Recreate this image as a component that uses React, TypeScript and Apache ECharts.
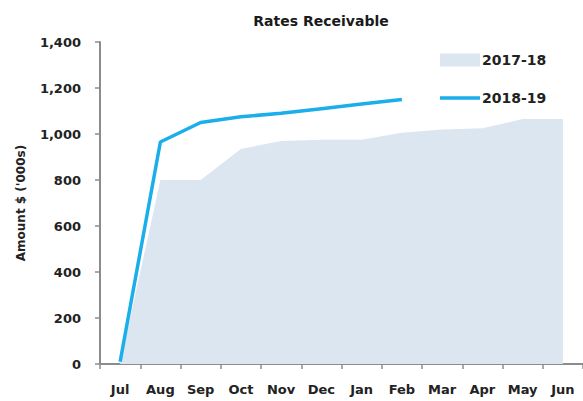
import React, { useEffect, useRef } from "react";
import * as echarts from "echarts";

const months = ["Jul", "Aug", "Sep", "Oct", "Nov", "Dec", "Jan", "Feb", "Mar", "Apr", "May", "Jun"];
const values1718 = [0, 800, 800, 935, 970, 975, 975, 1005, 1020, 1025, 1065, 1065];
const values1819 = [10, 965, 1050, 1075, 1090, 1110, 1130, 1150];
const yTicks = [0, 200, 400, 600, 800, 1000, 1200, 1400];

const FONT = "'DejaVu Sans', sans-serif";
const AREA = "#dce6f1";
const LINE = "#1aaeea";

export default function App() {
  const ref = useRef<HTMLDivElement>(null);
  useEffect(() => {
    if (!ref.current) return;
    const chart = echarts.init(ref.current, null, { renderer: "svg" });
    chart.setOption({
      animation: false,
      backgroundColor: "#ffffff",
      title: {
        text: "Rates Receivable",
        left: 316,
        top: 9,
        textAlign: "center",
        textStyle: { fontFamily: FONT, fontSize: 14, fontWeight: "bold", color: "#1a1a1a" },
      },
      legend: {
        orient: "vertical",
        left: 435,
        top: 48,
        itemWidth: 40,
        itemHeight: 13,
        itemGap: 24,
        textStyle: { fontFamily: FONT, fontSize: 14, fontWeight: "bold", color: "#222", padding: [0, 0, 0, -3] },
        data: [
          { name: "2017-18", icon: "rect", itemStyle: { color: AREA } },
          { name: "2018-19", icon: "path://M0,0H40V3.5H0Z", itemStyle: { color: LINE } },
        ],
      },
      grid: { left: 100, top: 42, width: 486, height: 322, containLabel: false },
      xAxis: {
        type: "category",
        data: months,
        boundaryGap: true,
        axisLine: { lineStyle: { color: "#8c8c8c", width: 2 } },
        axisTick: { show: true, length: 5, lineStyle: { color: "#8c8c8c", width: 1.5 } },
        axisLabel: { fontFamily: FONT, fontSize: 13, color: "#222", margin: 19, fontWeight: "bold" },
      },
      yAxis: {
        type: "value",
        min: yTicks[0],
        max: yTicks[yTicks.length - 1],
        interval: 200,
        name: "Amount $ ('000s)",
        nameLocation: "middle",
        nameGap: 73,
        nameRotate: 90,
        nameTextStyle: { fontFamily: FONT, fontSize: 12, color: "#222", fontWeight: "bold" },
        axisLine: { show: true, lineStyle: { color: "#8c8c8c", width: 2 } },
        axisTick: { show: true, length: 5, lineStyle: { color: "#8c8c8c", width: 1.5 } },
        splitLine: { show: false },
        axisLabel: {
          fontFamily: FONT,
          fontSize: 13,
          color: "#222",
          margin: 19,
          fontWeight: "bold",
          formatter: (v: number) => v.toLocaleString("en-US"),
        },
      },
      series: [
        {
          name: "2017-18",
          type: "line",
          data: values1718,
          symbol: "none",
          lineStyle: { width: 0, color: AREA },
          itemStyle: { color: AREA },
          areaStyle: { color: AREA, opacity: 1 },
          z: 1,
        },
        {
          name: "2018-19",
          type: "line",
          data: values1819,
          symbol: "none",
          lineStyle: { width: 3.5, color: LINE },
          itemStyle: { color: LINE },
          z: 3,
        },
      ],
    });
    return () => chart.dispose();
  }, []);
  return <div ref={ref} style={{ width: 583, height: 401, position: "absolute", left: 0, top: 0 }} />;
}
